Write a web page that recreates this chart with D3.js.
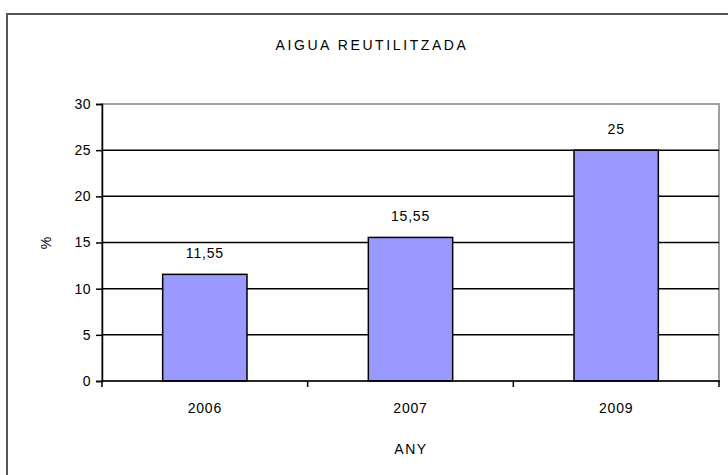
<!DOCTYPE html>
<html>
<head>
<meta charset="utf-8">
<script src="https://cdn.jsdelivr.net/npm/d3@7"></script>
<style>
  body { margin: 0; background: #fff; }
  svg text { font-family: "Liberation Sans", Arial, sans-serif; fill: #000; }
</style>
</head>
<body>
<div id="chart"></div>
<script>
const WIDTH = 728;
const HEIGHT = 475;

// data
var years = ["2006", "2007", "2009"];
var values = [11.55, 15.55, 25];
var valueLabels = ["11,55", "15,55", "25"];
var yTicks = [0, 5, 10, 15, 20, 25, 30];

var plot = { left: 102, right: 719, top: 104, bottom: 381 };

var svg = d3.select("#chart").append("svg")
    .attr("width", WIDTH)
    .attr("height", HEIGHT);

// outer chart frame (runs off the right and bottom edges)
svg.append("rect")
    .attr("x", 7)
    .attr("y", 14)
    .attr("width", 740)
    .attr("height", 480)
    .attr("fill", "#fff")
    .attr("stroke", "#555")
    .attr("stroke-width", 2);

var y = d3.scaleLinear().domain([0, 30]).range([plot.bottom, plot.top]);
var x = d3.scaleBand()
    .domain(years)
    .range([plot.left, plot.right])
    .paddingInner(0.59)
    .paddingOuter(0.295);

// plot area border
svg.append("rect")
    .attr("x", plot.left)
    .attr("y", plot.top)
    .attr("width", plot.right - plot.left)
    .attr("height", plot.bottom - plot.top)
    .attr("fill", "#fff")
    .attr("stroke", "#a0a0a0")
    .attr("stroke-width", 2);

// gridlines
svg.selectAll(".grid")
    .data(yTicks.filter(d => d > 0 && d < 30))
    .enter().append("line")
    .attr("class", "grid")
    .attr("x1", plot.left)
    .attr("x2", plot.right)
    .attr("y1", d => y(d))
    .attr("y2", d => y(d))
    .attr("stroke", "#000")
    .attr("stroke-width", 1.5);

// bars
svg.selectAll(".bar")
    .data(values)
    .enter().append("rect")
    .attr("class", "bar")
    .attr("x", (d, i) => x(years[i]))
    .attr("y", d => y(d))
    .attr("width", x.bandwidth())
    .attr("height", d => y(0) - y(d))
    .attr("fill", "#9999ff")
    .attr("stroke", "#000")
    .attr("stroke-width", 1.5);

// value labels
svg.selectAll(".val")
    .data(values)
    .enter().append("text")
    .attr("class", "val")
    .attr("x", (d, i) => x(years[i]) + x.bandwidth() / 2)
    .attr("y", d => y(d) - 16)
    .attr("text-anchor", "middle")
    .style("font-size", "14px")
    .style("letter-spacing", "0.8px")
    .text((d, i) => valueLabels[i]);

// y axis
var yAxis = d3.axisLeft(y).tickValues(yTicks).tickSize(6).tickPadding(5);
var gy = svg.append("g")
    .attr("transform", "translate(" + plot.left + ",0)")
    .call(yAxis);
gy.select(".domain").attr("stroke", "#000").attr("stroke-width", 1.5);
gy.selectAll(".tick line").attr("stroke", "#000").attr("stroke-width", 1.5);
gy.selectAll("text")
    .style("font-size", "14px")
    .style("letter-spacing", "0.5px")
    .style("font-family", "Liberation Sans, Arial, sans-serif");

// x axis line with ticks at category boundaries
svg.append("line")
    .attr("x1", plot.left - 1)
    .attr("x2", plot.right + 1)
    .attr("y1", plot.bottom)
    .attr("y2", plot.bottom)
    .attr("stroke", "#000")
    .attr("stroke-width", 1.5);

var bounds = years.map(d => x(d) - x.step() * x.paddingInner() / 2);
bounds.push(plot.right);
svg.selectAll(".xtick")
    .data(bounds)
    .enter().append("line")
    .attr("class", "xtick")
    .attr("x1", d => d)
    .attr("x2", d => d)
    .attr("y1", plot.bottom)
    .attr("y2", plot.bottom + 6)
    .attr("stroke", "#000")
    .attr("stroke-width", 1.5);

svg.selectAll(".xlab")
    .data(years)
    .enter().append("text")
    .attr("class", "xlab")
    .attr("x", d => x(d) + x.bandwidth() / 2)
    .attr("y", 413)
    .attr("text-anchor", "middle")
    .style("font-size", "14px")
    .style("letter-spacing", "0.8px")
    .text(d => d);

// titles
svg.append("text")
    .attr("x", 372)
    .attr("y", 50)
    .attr("text-anchor", "middle")
    .style("font-size", "14px")
    .style("letter-spacing", "2.6px")
    .text("AIGUA REUTILITZADA");

svg.append("text")
    .attr("x", 411)
    .attr("y", 454)
    .attr("text-anchor", "middle")
    .style("font-size", "14px")
    .style("letter-spacing", "1.5px")
    .text("ANY");

svg.append("text")
    .attr("transform", "translate(51,243) rotate(-90)")
    .attr("text-anchor", "middle")
    .style("font-size", "14px")
    .text("%");
</script>
</body>
</html>
